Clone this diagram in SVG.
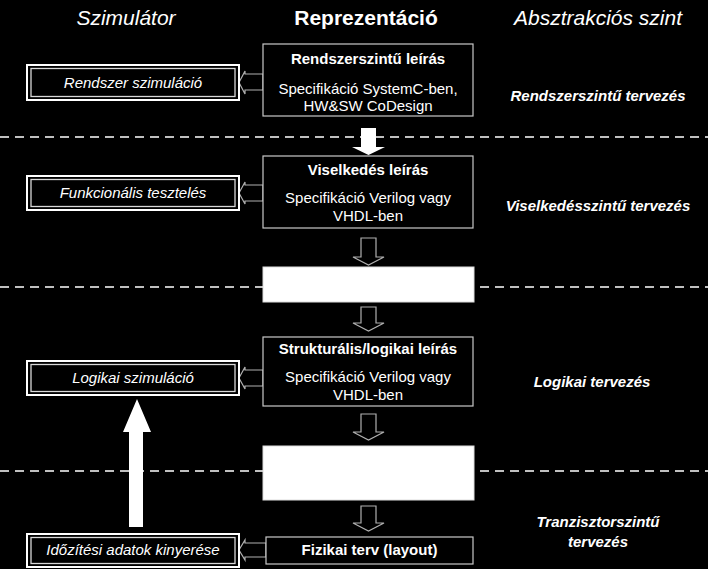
<svg xmlns="http://www.w3.org/2000/svg" width="708" height="569" viewBox="0 0 708 569">
<style>
text{font-family:"Liberation Sans",Arial,sans-serif;fill:#fff;text-anchor:middle}
.h{font-size:21px}
.hi{font-style:italic}
.hb{font-weight:bold}
.t{font-size:15px;font-weight:bold}
.b{font-size:15px}
.s{font-size:15px;font-style:italic}
.r{font-size:15px;font-style:italic;font-weight:bold}
.node{fill:#000;stroke:#c8c8c8;stroke-width:1.2}
.wbox{fill:#fff;stroke:#ddd;stroke-width:1}
.outer{fill:#000;stroke:#fff;stroke-width:2}
.inner{fill:none;stroke:#d8d8d8;stroke-width:1.3}
.hollow{fill:#000;stroke:#b0b0b0;stroke-width:1.2}
.solid{fill:#fff;stroke:none}
.dash{stroke:#fff;stroke-width:1.6;stroke-dasharray:9 6;fill:none}
</style>
<rect width="708" height="569" fill="#000"/>
<g id="separators">
<line class="dash" x1="0" y1="137" x2="708" y2="137"/>
<line class="dash" x1="0" y1="287" x2="708" y2="287"/>
<line class="dash" x1="0" y1="471" x2="708" y2="471"/>
</g>
<g id="headers">
<text class="h hi" x="126" y="25">Szimulátor</text>
<text class="h hb" x="366" y="25">Reprezentáció</text>
<text class="h hi" x="598" y="25">Absztrakciós szint</text>
</g>
<g id="levels">
<text class="r" x="598" y="101">Rendszerszintű tervezés</text>
<text class="r" x="598" y="211">Viselkedésszintű tervezés</text>
<text class="r" x="592" y="387">Logikai tervezés</text>
<text class="r" x="598" y="527">Tranzisztorszintű</text>
<text class="r" x="598" y="547">tervezés</text>
</g>
<g id="connectors">
<polygon class="hollow" points="263,74 245,74 245,71 239,82.5 245,94 245,90 263,90"/>
<polygon class="hollow" points="263,185 245,185 245,182 239,193 245,204 245,201 263,201"/>
<polygon class="hollow" points="263,370 245,370 245,367 239,378 245,389 245,386 263,386"/>
<polygon class="hollow" points="266,543 245,543 245,540 239,550 245,560 245,557 266,557"/>
<polygon class="solid" points="361,128 376,128 376,147 385,147 368.5,155 352,147 361,147"/>
<polygon class="hollow" points="361,238 376,238 376,257 384,257 368.5,265 353,257 361,257"/>
<polygon class="hollow" points="361,307 376,307 376,323 384,323 368.5,331 353,323 361,323"/>
<polygon class="hollow" points="361,414 376,414 376,432 384,432 368.5,440 353,432 361,432"/>
<polygon class="hollow" points="361,506 376,506 376,523 384,523 368.5,531 353,523 361,523"/>
<polygon class="solid" points="129,527 143,527 143,432 151,432 137,399 123,432 129,432"/>
</g>
<g id="n-rendszer">
<rect class="node" x="263" y="44" width="210" height="72"/>
<text class="t" x="368" y="64">Rendszerszintű leírás</text>
<text class="b" x="368" y="94">Specifikáció SystemC-ben,</text>
<text class="b" x="368" y="111">HW&amp;SW CoDesign</text>
</g>
<g id="n-viselkedes">
<rect class="node" x="263" y="156" width="210" height="72"/>
<text class="t" x="368" y="175">Viselkedés leírás</text>
<text class="b" x="368" y="203">Specifikáció Verilog vagy</text>
<text class="b" x="368" y="221">VHDL-ben</text>
</g>
<g id="n-white1">
<rect class="wbox" x="263" y="267" width="211" height="35"/>
</g>
<g id="n-strukturalis">
<rect class="node" x="263" y="337" width="210" height="69"/>
<text class="t" x="368" y="354">Strukturális/logikai leírás</text>
<text class="b" x="368" y="382">Specifikáció Verilog vagy</text>
<text class="b" x="368" y="400">VHDL-ben</text>
</g>
<g id="n-white2">
<rect class="wbox" x="263" y="446" width="211" height="54"/>
</g>
<g id="n-fizikai">
<rect class="node" x="266" y="537" width="207" height="27"/>
<text class="t" x="369.5" y="555">Fizikai terv (layout)</text>
</g>
<g id="s-rendszer">
<rect class="outer" x="27" y="65" width="212" height="35"/>
<rect class="inner" x="31" y="68.5" width="204" height="28"/>
<text class="s" x="133" y="88">Rendszer szimuláció</text>
</g>
<g id="s-funkcionalis">
<rect class="outer" x="27" y="176" width="212" height="34"/>
<rect class="inner" x="31" y="179.5" width="204" height="27"/>
<text class="s" x="133" y="198">Funkcionális tesztelés</text>
</g>
<g id="s-logikai">
<rect class="outer" x="27" y="361" width="212" height="34"/>
<rect class="inner" x="31" y="364.5" width="204" height="27"/>
<text class="s" x="133" y="383">Logikai szimuláció</text>
</g>
<g id="s-idozitesi">
<rect class="outer" x="27" y="534" width="212" height="33"/>
<rect class="inner" x="31" y="537.5" width="204" height="26"/>
<text class="s" x="133" y="555">Időzítési adatok kinyerése</text>
</g>
</svg>
